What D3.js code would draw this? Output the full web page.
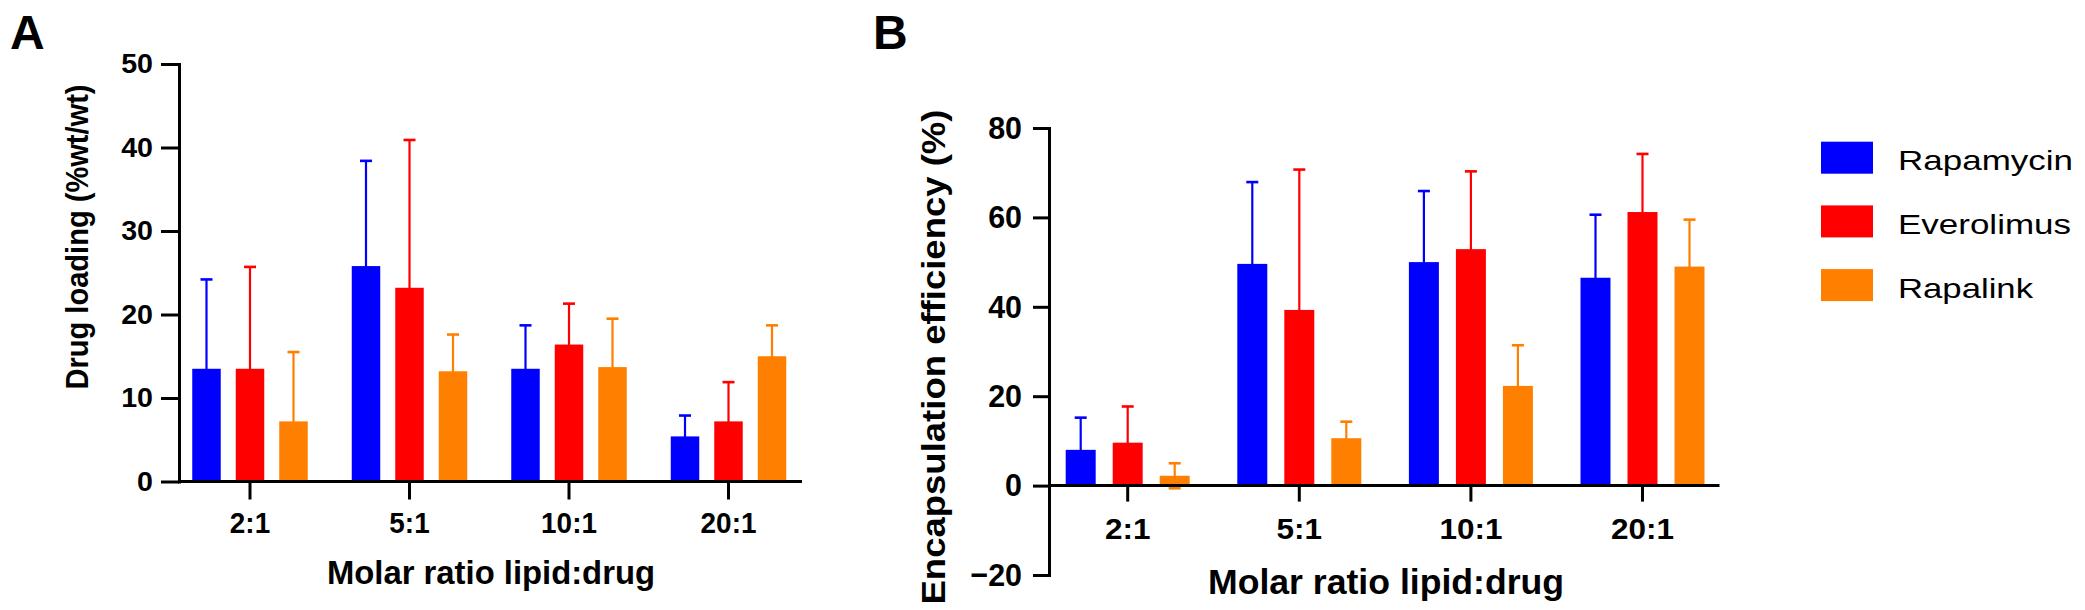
<!DOCTYPE html>
<html>
<head>
<meta charset="utf-8">
<script src="https://cdn.jsdelivr.net/npm/d3@7"></script>
<style>
  html, body { margin: 0; padding: 0; background: #fff; }
  svg { display: block; }
  text { font-family: Arial, "Liberation Sans", Helvetica, sans-serif; fill: #000; }
</style>
</head>
<body>
<svg id="chart" width="2085" height="610"></svg>
<script>
// ---------- data ----------
const categories = ["2:1", "5:1", "10:1", "20:1"];
const seriesNames = ["Rapamycin", "Everolimus", "Rapalink"];
const seriesColors = ["#0000FF", "#FF0000", "#FF7F00"];

// Panel A: Drug loading (%wt/wt) — mean and SD
const loadingRapamycin  = [13.5, 25.8, 13.5, 5.4];
const loadingEverolimus = [13.5, 23.2, 16.4, 7.2];
const loadingRapalink   = [7.2, 13.2, 13.7, 15.0];
const loadingSdRapamycin  = [10.7, 12.6, 5.2, 2.5];
const loadingSdEverolimus = [12.2, 17.7, 4.9, 4.7];
const loadingSdRapalink   = [8.3, 4.4, 5.8, 3.7];
const loadingTicks = [0, 10, 20, 30, 40, 50];

// Panel B: Encapsulation efficiency (%) — mean and SD
const eeRapamycin  = [8.0, 49.6, 50.0, 46.5];
const eeEverolimus = [9.6, 39.3, 52.9, 61.2];
const eeRapalink   = [2.2, 10.6, 22.3, 49.0];
const eeSdRapamycin  = [7.2, 18.3, 15.9, 14.1];
const eeSdEverolimus = [8.1, 31.4, 17.4, 13.0];
const eeSdRapalink   = [2.8, 3.7, 9.1, 10.5];
const eeTicks = [-20, 0, 20, 40, 60, 80];

// ---------- drawing ----------
const svg = d3.select("#chart");
const FONT = 'Arial, "Liberation Sans", Helvetica, sans-serif';

function makeRows(means, sds) {
  const rows = [];
  categories.forEach((c, ci) => {
    seriesNames.forEach((s, si) => {
      rows.push({cat: c, series: s, si: si, v: means[si][ci], e: sds[si][ci]});
    });
  });
  return rows;
}

function stretchText(sel, factor) {
  sel.each(function () {
    const w = this.getComputedTextLength();
    d3.select(this).attr("textLength", w * factor).attr("lengthAdjust", "spacingAndGlyphs");
  });
}

function drawPanel(cfg) {
  const g = svg.append("g");
  const x = d3.scaleBand().domain(categories).range(cfg.groupRange).paddingInner(0).paddingOuter(0);
  const xi = d3.scaleBand().domain(seriesNames).range([-cfg.innerHalf, cfg.innerHalf]).paddingInner(cfg.innerPad).paddingOuter(0);
  const y = d3.scaleLinear().domain(cfg.yDomain).range(cfg.yRange);
  const rows = makeRows(cfg.means, cfg.sds);
  const cx = d => x(d.cat) + x.bandwidth() / 2 + xi(d.series) + xi.bandwidth() / 2;
  const capW = cfg.capW;

  // error bars (symmetric, clipped at axis minimum), drawn under bars
  const eb = g.append("g");
  rows.forEach(d => {
    const col = seriesColors[d.si];
    const hi = d.v + d.e;
    const loRaw = d.v - d.e;
    const lo = Math.max(loRaw, cfg.yDomain[0]);
    eb.append("line").attr("x1", cx(d)).attr("x2", cx(d))
      .attr("y1", y(lo)).attr("y2", y(hi))
      .attr("stroke", col).attr("stroke-width", 2.2);
    eb.append("line").attr("x1", cx(d) - capW / 2).attr("x2", cx(d) + capW / 2)
      .attr("y1", y(hi)).attr("y2", y(hi))
      .attr("stroke", col).attr("stroke-width", 2.6);
    if (loRaw > cfg.yDomain[0]) {
      eb.append("line").attr("x1", cx(d) - capW / 2).attr("x2", cx(d) + capW / 2)
        .attr("y1", y(loRaw)).attr("y2", y(loRaw))
        .attr("stroke", col).attr("stroke-width", 2.6);
    }
  });

  // bars
  g.append("g").selectAll("rect").data(rows).join("rect")
    .attr("x", d => x(d.cat) + x.bandwidth() / 2 + xi(d.series))
    .attr("width", xi.bandwidth())
    .attr("y", d => y(Math.max(0, d.v)))
    .attr("height", d => Math.abs(y(d.v) - y(0)))
    .attr("fill", d => seriesColors[d.si]);

  // y axis
  const yAxis = d3.axisLeft(y).tickValues(cfg.yTicks).tickSize(cfg.tickLen).tickSizeOuter(0).tickPadding(cfg.yTickPad);
  const ya = g.append("g").attr("transform", `translate(${cfg.axisX},0)`).call(yAxis);
  ya.select(".domain").attr("stroke", "#000").attr("stroke-width", 3).attr("stroke-linecap", "square");
  ya.selectAll(".tick line").attr("stroke", "#000").attr("stroke-width", 3);
  ya.selectAll(".tick text").attr("font-family", FONT).attr("font-weight", "bold")
    .attr("font-size", cfg.yTickFont).attr("fill", "#000");
  stretchText(ya.selectAll(".tick text"), cfg.yTickStretch);

  // x axis (line at zero)
  const xAxis = d3.axisBottom(x).tickSize(cfg.tickLen).tickSizeOuter(0).tickPadding(cfg.xTickPad);
  const xa = g.append("g").attr("transform", `translate(0,${y(0)})`).call(xAxis);
  xa.select(".domain").remove();
  xa.append("line").attr("x1", cfg.axisX).attr("x2", cfg.xAxisEnd).attr("y1", 0).attr("y2", 0)
    .attr("stroke", "#000").attr("stroke-width", 3);
  xa.selectAll(".tick line").attr("stroke", "#000").attr("stroke-width", 3);
  xa.selectAll(".tick text").attr("font-family", FONT).attr("font-weight", "bold")
    .attr("font-size", cfg.xTickFont).attr("fill", "#000").attr("dy", "0.71em");
  stretchText(xa.selectAll(".tick text"), cfg.xTickStretch);

  // axis titles
  g.append("text").attr("x", cfg.xTitle.x).attr("y", cfg.xTitle.y)
    .attr("text-anchor", "middle").attr("font-weight", "bold").attr("font-size", cfg.xTitle.size)
    .attr("textLength", cfg.xTitle.len).attr("lengthAdjust", "spacingAndGlyphs")
    .text("Molar ratio lipid:drug");
  g.append("text").attr("transform", `translate(${cfg.yTitle.x},${cfg.yTitle.y}) rotate(-90)`)
    .attr("text-anchor", "middle").attr("font-weight", "bold").attr("font-size", cfg.yTitle.size)
    .attr("textLength", cfg.yTitle.len).attr("lengthAdjust", "spacingAndGlyphs")
    .text(cfg.yTitle.text);

  // panel letter
  g.append("text").attr("x", cfg.letter.x).attr("y", cfg.letter.y)
    .attr("font-weight", "bold").attr("font-size", 48).text(cfg.letter.text);
}

drawPanel({
  means: [loadingRapamycin, loadingEverolimus, loadingRapalink],
  sds: [loadingSdRapamycin, loadingSdEverolimus, loadingSdRapalink],
  groupRange: [170.25, 808.25], innerHalf: 57.75, innerPad: 0.345,
  yDomain: [0, 50], yRange: [481.5, 64], yTicks: loadingTicks,
  axisX: 179, xAxisEnd: 802, tickLen: 18, yTickPad: 8, xTickPad: 12,
  yTickFont: 27, xTickFont: 30, yTickStretch: 1.06, xTickStretch: 0.93, capW: 12,
  xTitle: {x: 491, y: 584, size: 34, len: 328},
  yTitle: {x: 88, y: 237, size: 32, len: 305, text: "Drug loading (%wt/wt)"},
  letter: {x: 10, y: 49, text: "A"}
});

drawPanel({
  means: [eeRapamycin, eeEverolimus, eeRapalink],
  sds: [eeSdRapamycin, eeSdEverolimus, eeSdRapalink],
  groupRange: [1041.9, 1728.3], innerHalf: 62, innerPad: 0.362,
  yDomain: [-20, 80], yRange: [575, 128], yTicks: eeTicks,
  axisX: 1049, xAxisEnd: 1719.5, tickLen: 16, yTickPad: 11, xTickPad: 16,
  yTickFont: 32, xTickFont: 30, yTickStretch: 0.95, xTickStretch: 1.05, capW: 12,
  xTitle: {x: 1386, y: 594, size: 35, len: 356},
  yTitle: {x: 945, y: 357, size: 34, len: 495, text: "Encapsulation efficiency (%)"},
  letter: {x: 873, y: 49, text: "B"}
});

// legend
const legendLens = [175, 173, 135];
const leg = svg.append("g");
seriesNames.forEach((s, i) => {
  const top = 141.7 + i * 63.7;
  leg.append("rect").attr("x", 1821).attr("y", top).attr("width", 52).attr("height", 32)
    .attr("fill", seriesColors[i]);
  leg.append("text").attr("x", 1898).attr("y", top + 28.5)
    .attr("font-size", 28).attr("textLength", legendLens[i]).attr("lengthAdjust", "spacingAndGlyphs")
    .text(s);
});
</script>
</body>
</html>
